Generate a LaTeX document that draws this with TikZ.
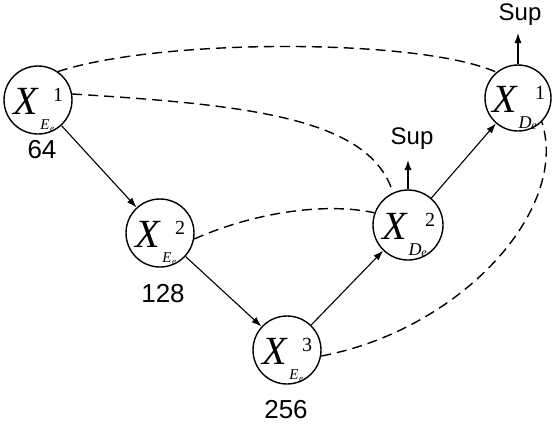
\documentclass[tikz,border=0pt]{standalone}
\usepackage{fontspec}
\setmainfont{Liberation Sans}
\newfontfamily\serifit{Liberation Serif}
\usetikzlibrary{arrows.meta}
\begin{document}
\begin{tikzpicture}[x=1pt,y=-1pt,
  stagebox/.style={circle,draw,line width=1.4pt,minimum size=68pt,inner sep=0pt},
  bigx/.style={font=\serifit\itshape\fontsize{40}{40}\selectfont,inner sep=0pt},
  subl/.style={font=\serifit\itshape\fontsize{15}{15}\selectfont,inner sep=0pt},
  subsub/.style={font=\serifit\itshape\fontsize{9}{9}\selectfont,inner sep=0pt},
  supl/.style={font=\serifit\fontsize{20}{20}\selectfont,inner sep=0pt},
  numl/.style={font=\fontsize{26}{26}\selectfont,inner sep=0pt},
  supt/.style={font=\fontsize{24}{24}\selectfont,inner sep=0pt},
  flow/.style={line width=1.1pt,-{Latex[length=10pt,width=7pt]}},
  skip/.style={line width=1.4pt,dash pattern=on 10pt off 6pt}]
\useasboundingbox (0,0) rectangle (558,424);
% nodes
\node[stagebox] (e1) at (38,100) {};
\node[stagebox] (e2) at (160,233) {};
\node[stagebox] (e3) at (287,350) {};
\node[stagebox,minimum size=70pt] (d2) at (408,225) {};
\node[stagebox,minimum size=66pt] (d1) at (518,98) {};
% labels inside
\foreach \n/\s in {e1/1,e2/2,e3/3}{
  \node[bigx] (\n x) at ([shift={(-12,1)}]\n.center) {X};
  \node[subl] (\n s) at ([shift={(7,25)}]\n.center) {E};
  \node[subsub] (\n ss) at ([shift={(14,29)}]\n.center) {e};
  \node[supl] (\n p) at ([shift={(20,-5)}]\n.center) {\s};
}
\foreach \n/\s in {d2/2,d1/1}{
  \node[bigx] (\n x) at ([shift={(-13,1)}]\n.center) {X};
  \node[subl,font=\serifit\itshape\fontsize{18}{18}\selectfont] (\n s) at ([shift={(7,25)}]\n.center) {D};
  \node[subsub,font=\serifit\itshape\fontsize{12}{12}\selectfont] (\n ss) at ([shift={(16,29)}]\n.center) {e};
  \node[supl] (\n p) at ([shift={(22,-5)}]\n.center) {\s};
}
% numbers
\node[numl] (n64) at (42,150) {64};
\node[numl] (n128) at (163,294) {128};
\node[numl] (n256) at (286,410) {256};
\node[supt] (sup2) at (412,139) {Sup};
\node[supt] (sup1) at (520,15) {Sup};
% flow arrows
\draw[flow] (e1) -- (e2);
\draw[flow] (e2) -- (e3);
\draw[flow] (e3) -- (d2);
\draw[flow] (d2) -- (d1);
\coordinate (t2) at (408,160);
\coordinate (t1) at (518,33);
\draw[flow] (d2.north) -- (t2);
\draw[flow] (d1.north) -- (t1);
% skip connections
\draw[skip] (e1.55) .. controls (160,38) and (420,38) .. (d1.130);
\draw[skip] (e1.10) .. controls (250,105) and (370,118) .. (d2.115);
\draw[skip] (e2.-10) .. controls (260,210) and (330,203) .. (d2.160);
\draw[skip] (e3.-10) .. controls (460,330) and (570,210) .. (d1.-45);
\end{tikzpicture}
\end{document}
